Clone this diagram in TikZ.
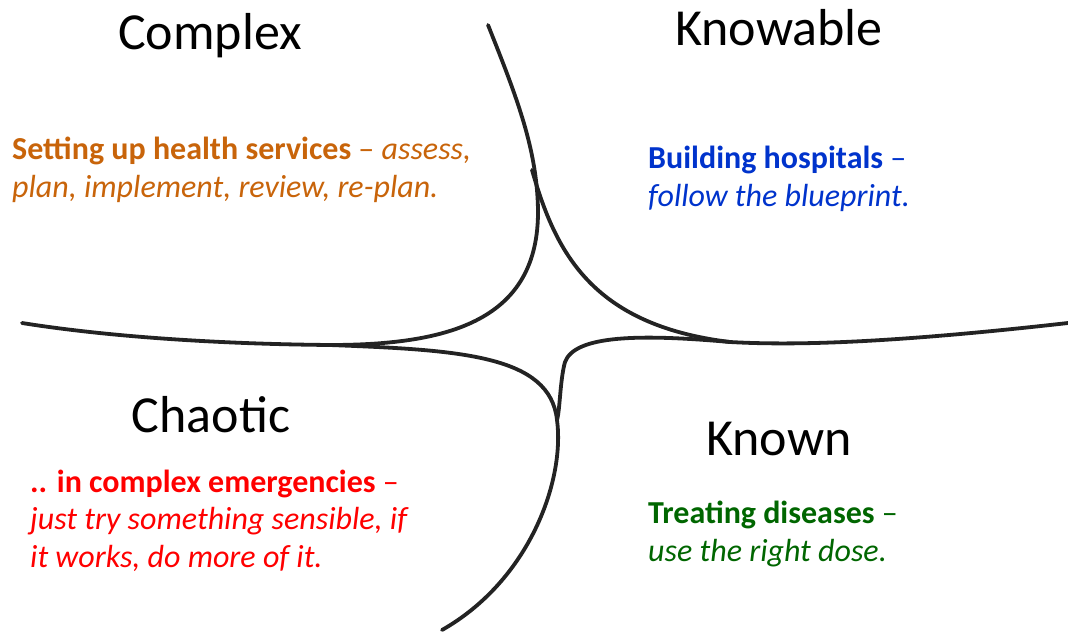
\documentclass[tikz,border=0pt]{standalone}
\usepackage{fontspec}
\setmainfont{Carlito}
\definecolor{complexorange}{RGB}{200,100,10}
\definecolor{knowableblue}{RGB}{0,51,204}
\definecolor{chaoticred}{RGB}{255,0,0}
\definecolor{knowngreen}{RGB}{0,102,0}
\definecolor{curvegray}{RGB}{35,35,35}
\begin{document}
\begin{tikzpicture}[x=1pt,y=-1pt,
  boundary/.style={draw=curvegray, line width=3.8pt, line cap=round},
  domainname/.style={font=\fontsize{52}{62}\selectfont, inner sep=0pt, anchor=base},
  example/.style={font=\fontsize{32}{37.5}\selectfont, inner sep=0pt, anchor=base west, align=left}]
\useasboundingbox (0,0) rectangle (1068,634);
% ends and junctions of the boundaries
\coordinate (top) at (488,25);
\coordinate (cusp) at (538,210);
\coordinate (split) at (532,170);
\coordinate (leftjoin) at (330,345);
\coordinate (rightjoin) at (730,342);
\coordinate (leftend) at (22,323);
\coordinate (rightend) at (1068,323);
\coordinate (merge) at (557,420);
\coordinate (bottom) at (442,630);
% complex / knowable
\draw[boundary] (top) .. controls (518,100) and (537,150) .. (cusp)
  .. controls (539,320) and (450,345) .. (leftjoin)
  .. controls (220,344) and (110,337) .. (leftend);
\draw[boundary] (split) .. controls (555,250) and (590,325) .. (rightjoin)
  .. controls (800,346) and (900,342) .. (rightend);
% chaotic / known
\draw[boundary] (leftjoin) .. controls (460,350) and (550,355) .. (merge)
  .. controls (565,480) and (530,580) .. (bottom);
\draw[boundary] (rightjoin) .. controls (640,334) and (575,335) .. (565,362)
  .. controls (560,380) and (560,410) .. (merge);
% domain names
\node[domainname] (complex) at (210,50) {Complex};
\node[domainname] (knowable) at (779,46) {Knowable};
\node[domainname] (chaotic) at (211,432) {Chaotic};
\node[domainname] (known) at (779,455) {Known};
% examples (base = last line)
\node[example, text=complexorange] (complexex) at (12,197)
  {\textbf{Setting up health services} – \textit{assess,}\\ \textit{plan, implement, review, re-plan.}};
\node[example, text=knowableblue] (knowableex) at (648,206)
  {\textbf{Building hospitals} –\\ \textit{follow the blueprint.}};
\node[example, text=chaoticred] (chaoticex) at (30,567)
  {\textbf{.. in complex emergencies} –\\ \textit{just try something sensible, if}\\ \textit{it works, do more of it.}};
\node[example, text=knowngreen] (knownex) at (648,561)
  {\textbf{Treating diseases} –\\ \textit{use the right dose.}};
\end{tikzpicture}
\end{document}
